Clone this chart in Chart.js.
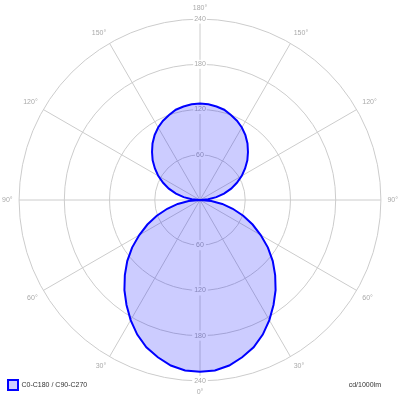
<!DOCTYPE html>
<html>
<head>
<meta charset="utf-8">
<script src="https://cdn.jsdelivr.net/npm/chart.js@4.4.1/dist/chart.umd.min.js"></script>
<style>
  html, body { margin: 0; padding: 0; background: #fff; }
  #wrap { width: 400px; height: 400px; }
</style>
</head>
<body>
<div id="wrap"><canvas id="polar"></canvas></div>
<script>
// gamma angle in degrees: 0 = straight down, 180 = straight up
const gammaAngles = [0, 5, 10, 15, 20, 25, 30, 35, 40, 45, 50, 55, 60, 65, 70, 75, 80, 85, 90,
  95, 100, 105, 110, 115, 120, 125, 130, 135, 140, 145, 150, 155, 160, 165, 170, 175, 180];
// cd/1000lm (C0-C180 and C90-C270 lie on top of each other)
const intensity = [228, 227, 223, 216, 208, 197, 184, 170, 156, 141, 126, 110, 93, 77, 61, 45, 30, 15, 0,
  11, 22, 33, 44, 54, 64, 73, 82, 90, 98, 105, 111, 116, 120, 124, 126, 127.5, 128];
const radialTicks = [0, 60, 120, 180, 240];
const seriesName = 'C0-C180 / C90-C270';
const unitText = 'cd/1000lm';

const FONT = '"Liberation Sans", Arial, sans-serif';
const GREY = '#aaaaaa';

// radar runs clockwise from the top; the right half goes 180 -> 0, the left half 0 -> 180
const spokeGamma = [];
for (let a = 0; a < 360; a += 5) {
  spokeGamma.push(a <= 180 ? 180 - a : a - 180);
}
const spokeValues = spokeGamma.map(g => intensity[gammaAngles.indexOf(g)]);

// tick labels below the centre (Chart.js only draws the upper ones)
const lowerTicks = {
  id: 'lowerTicks',
  beforeDatasetsDraw(chart) {
    const scale = chart.scales.r;
    const ctx = chart.ctx;
    ctx.save();
    ctx.font = '7px ' + FONT;
    ctx.textAlign = 'center';
    ctx.textBaseline = 'middle';
    radialTicks.forEach(v => {
      if (v === 0) return;
      const y = scale.yCenter + scale.getDistanceFromCenterForValue(v);
      const w = ctx.measureText(String(v)).width;
      ctx.fillStyle = '#fff';
      ctx.fillRect(scale.xCenter - w / 2 - 2, y - 5, w + 4, 10);
      ctx.fillStyle = GREY;
      ctx.fillText(String(v), scale.xCenter, y);
    });
    ctx.restore();
  },
  afterDraw(chart) {
    const ctx = chart.ctx;
    ctx.save();
    ctx.font = '7px ' + FONT;
    ctx.fillStyle = '#333';
    ctx.textAlign = 'right';
    ctx.textBaseline = 'middle';
    ctx.fillText(unitText, 381, 385);
    ctx.restore();
  }
};

new Chart(document.getElementById('polar'), {
  type: 'radar',
  data: {
    labels: spokeGamma,
    datasets: [{
      label: seriesName,
      data: spokeValues,
      borderColor: '#0000ff',
      backgroundColor: 'rgba(0, 0, 255, 0.2)',
      borderWidth: 2,
      pointRadius: 0,
      tension: 0,
      fill: true
    }]
  },
  options: {
    responsive: true,
    maintainAspectRatio: false,
    animation: false,
    layout: { padding: 2 },
    plugins: {
      legend: {
        position: 'chartArea',
        align: 'end',
        labels: {
          boxWidth: 10,
          boxHeight: 10,
          padding: 6,
          color: '#333',
          font: { family: FONT, size: 7 }
        }
      },
      tooltip: { enabled: false }
    },
    scales: {
      r: {
        min: radialTicks[0],
        max: radialTicks[radialTicks.length - 1],
        ticks: {
          stepSize: 60,
          color: GREY,
          font: { family: FONT, size: 7 },
          backdropColor: '#fff',
          backdropPadding: 1
        },
        grid: { circular: true, color: '#cccccc' },
        angleLines: {
          color: c => (spokeGamma[c.index] % 30 === 0 ? '#cccccc' : 'rgba(0,0,0,0)')
        },
        pointLabels: {
          padding: 2,
          color: GREY,
          font: { family: FONT, size: 7 },
          callback: (g) => (g % 30 === 0 ? g + '°' : '')
        }
      }
    }
  },
  plugins: [lowerTicks]
});
</script>
</body>
</html>
